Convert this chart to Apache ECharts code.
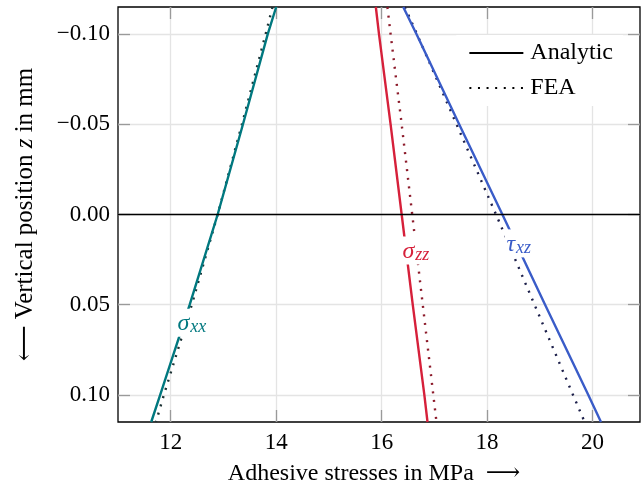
<!DOCTYPE html>
<html>
<head>
<meta charset="utf-8">
<style>
  html, body { margin: 0; padding: 0; background: #fff; }
  #chart { width: 642px; height: 488px; }
</style>
<script src="https://cdn.jsdelivr.net/npm/echarts@6/dist/echarts.min.js"></script>
</head>
<body>
<div id="chart"></div>
<script>
// Through-thickness positions (mm) where the stresses are sampled
const zPositions = [-0.115, -0.1, -0.05, 0, 0.05, 0.1, 0.115];

// Analytic solution (MPa)
const sigmaXXAnalytic = [14.00, 13.84, 13.37, 12.89, 12.36, 11.80, 11.63];
const sigmaZZAnalytic = [15.89, 15.95, 16.17, 16.38, 16.59, 16.81, 16.87];
const tauXZAnalytic   = [16.41, 16.66, 17.47, 18.29, 19.10, 19.92, 20.16];

// Finite element results (MPa)
const sigmaXXFEA = [13.93, 13.80, 13.35, 12.89, 12.40, 11.87, 11.72];
const sigmaZZFEA = [16.11, 16.17, 16.38, 16.58, 16.78, 16.98, 17.04];
const tauXZFEA   = [16.44, 16.67, 17.42, 18.17, 18.90, 19.63, 19.85];

// Axis ticks
const xTicks = [12, 14, 16, 18, 20];
const zTicks = [-0.10, -0.05, 0.00, 0.05, 0.10];

// Curve labels: [stress, z]
const sigmaXXLabelAt = [12.41, 0.060];
const sigmaZZLabelAt = [16.66, 0.020];
const tauXZLabelAt   = [18.61, 0.016];

const SERIF = '"Liberation Serif", "DejaVu Serif", serif';
const TEAL = '#00787f', RED = '#d6203a', BLUE = '#3a5cc8';
const TEAL_FEA = '#1c3234', RED_FEA = '#8c1a2a', BLUE_FEA = '#1c1f4a';
const DOTS = [2, 6.6];

const pairs = (xs) => xs.map((x, i) => [x, zPositions[i]]);
const fmtZ = (v) => (v < 0 ? '\u2212' : '') + Math.abs(v).toFixed(2);

function curveLabel(coord, sym, sub, color) {
  return {
    silent: true,
    symbol: 'rect',
    symbolSize: 1,
    itemStyle: { color: 'rgba(0,0,0,0)' },
    data: [{
      coord: coord,
      label: {
        show: true,
        position: 'inside',
        formatter: '{s|' + sym + '}{b|' + sub + '}',
        backgroundColor: '#fff',
        padding: [2, 3, 0, 2],
        rich: {
          s: { fontFamily: SERIF, fontStyle: 'italic', fontSize: 24, color: color, lineHeight: 26 },
          b: { fontFamily: SERIF, fontStyle: 'italic', fontSize: 18, color: color, lineHeight: 17, verticalAlign: 'bottom', padding: [0, 0, 0, 1] }
        }
      }
    }]
  };
}

function lineSeries(name, xs, color, dotted, extra) {
  return Object.assign({
    name: name,
    type: 'line',
    data: pairs(xs),
    showSymbol: false,
    symbol: 'none',
    silent: true,
    animation: false,
    lineStyle: { color: color, width: 2.4, type: dotted ? DOTS : 'solid', cap: 'butt' },
    itemStyle: { color: color },
    legendHoverLink: false
  }, extra || {});
}

const tickStyle = { inside: true, length: 12, lineStyle: { color: '#9a9a9a', width: 1.3 } };
const hiddenLine = { show: false, onZero: false };

const chart = echarts.init(document.getElementById('chart'), null, { renderer: 'canvas' });
chart.setOption({
  animation: false,
  backgroundColor: '#fff',
  textStyle: { fontFamily: SERIF },
  grid: {
    left: 118, right: 2, top: 7, bottom: 66,
    containLabel: false,
    outerBoundsMode: 'none',
    show: true, borderColor: '#000', borderWidth: 1.3, backgroundColor: 'transparent'
  },
  legend: {
    data: ['Analytic', 'FEA'],
    orient: 'vertical',
    right: 19, top: 35,
    itemWidth: 54, itemHeight: 14, itemGap: 11,
    backgroundColor: '#fff',
    padding: [6, 10, 6, 12],
    selectedMode: false,
    itemStyle: { opacity: 0 },
    textStyle: { fontFamily: SERIF, fontSize: 24, color: '#000', padding: [0, 0, 0, 2] }
  },
  xAxis: [{
    type: 'value', min: 11, max: 20.9,
    name: 'Adhesive stresses in MPa  \u27f6',
    nameLocation: 'middle', nameGap: 40,
    nameTextStyle: { fontFamily: SERIF, fontSize: 24, color: '#000', padding: [0, 10, 0, 0] },
    axisLine: hiddenLine,
    axisTick: Object.assign({ customValues: xTicks }, tickStyle),
    axisLabel: { customValues: xTicks, fontFamily: SERIF, fontSize: 23, color: '#000', margin: 9 },
    splitLine: { show: true, lineStyle: { color: '#e4e4e4', width: 1.3 } }
  }, {
    type: 'value', min: 11, max: 20.9, position: 'top',
    axisLine: hiddenLine,
    axisTick: Object.assign({ customValues: xTicks }, tickStyle),
    axisLabel: { show: false },
    splitLine: { show: false }
  }],
  yAxis: [{
    type: 'value', min: -0.115, max: 0.115, inverse: true,
    name: '\u27f5 Vertical position {i|z} in mm',
    nameLocation: 'middle', nameGap: 80, nameRotate: 90,
    nameTextStyle: {
      fontFamily: SERIF, fontSize: 25, color: '#000',
      rich: { i: { fontFamily: SERIF, fontSize: 25, fontStyle: 'italic', color: '#000' } }
    },
    axisLine: hiddenLine,
    axisTick: Object.assign({ customValues: zTicks }, tickStyle),
    axisLabel: { customValues: zTicks, formatter: fmtZ, fontFamily: SERIF, fontSize: 23, color: '#000', margin: 8 },
    splitLine: { show: true, lineStyle: { color: '#e4e4e4', width: 1.3 } }
  }, {
    type: 'value', min: -0.115, max: 0.115, inverse: true, position: 'right',
    axisLine: hiddenLine,
    axisTick: Object.assign({ customValues: zTicks }, tickStyle),
    axisLabel: { show: false },
    splitLine: { show: false }
  }],
  series: [
    // legend entries (line styles only)
    { name: 'Analytic', type: 'line', data: [], symbol: 'none', lineStyle: { color: '#000', width: 2.4 }, itemStyle: { color: '#000' } },
    { name: 'FEA', type: 'line', data: [], symbol: 'none', lineStyle: { color: '#000', width: 2.4, type: DOTS }, itemStyle: { color: '#000' } },

    // mid-plane of the adhesive layer
    {
      type: 'line', data: [], silent: true,
      markLine: {
        silent: true, symbol: 'none', label: { show: false },
        lineStyle: { color: '#000', width: 1.4, type: 'solid' },
        data: [{ yAxis: 0 }]
      }
    },

    lineSeries('sxxFEA', sigmaXXFEA, TEAL_FEA, true),
    lineSeries('szzFEA', sigmaZZFEA, RED_FEA, true),
    lineSeries('txzFEA', tauXZFEA, BLUE_FEA, true),
    lineSeries('sxx', sigmaXXAnalytic, TEAL, false, { markPoint: curveLabel(sigmaXXLabelAt, '\u03c3', 'xx', TEAL) }),
    lineSeries('szz', sigmaZZAnalytic, RED, false, { markPoint: curveLabel(sigmaZZLabelAt, '\u03c3', 'zz', RED) }),
    lineSeries('txz', tauXZAnalytic, BLUE, false, { markPoint: curveLabel(tauXZLabelAt, '\u03c4', 'xz', BLUE) })
  ]
});
</script>
</body>
</html>
